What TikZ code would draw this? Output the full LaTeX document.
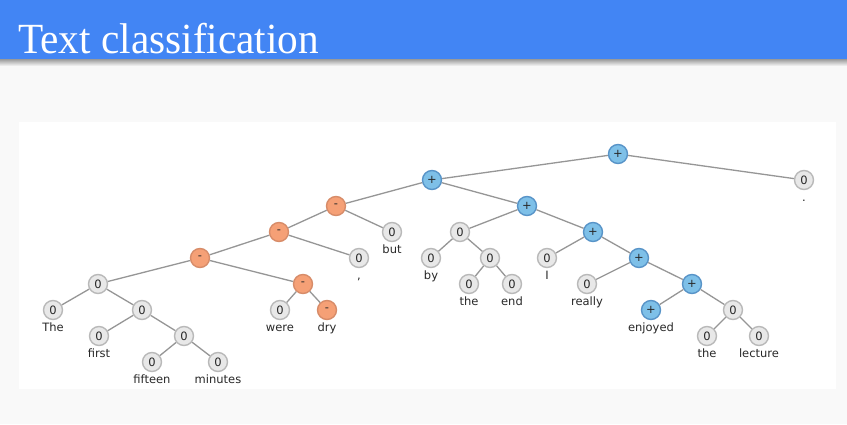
\documentclass[tikz,border=0pt]{standalone}
\usepackage{fontspec}
\setmainfont{Liberation Serif}
\newfontfamily\lblfont{DejaVu Sans}
\definecolor{barblue}{RGB}{66,133,244}
\definecolor{pagebg}{RGB}{249,249,249}
\definecolor{edgecol}{RGB}{150,150,150}
\definecolor{zfill}{RGB}{232,232,232}
\definecolor{zdraw}{RGB}{185,185,185}
\definecolor{nfill}{RGB}{245,160,118}
\definecolor{ndraw}{RGB}{215,140,105}
\definecolor{pfill}{RGB}{126,192,232}
\definecolor{pdraw}{RGB}{88,148,200}
\definecolor{txtcol}{RGB}{40,40,40}
\begin{document}
\begin{tikzpicture}[x=1pt,y=-1pt,
  nd/.style={circle,minimum size=19pt,inner sep=0pt,line width=1.4pt,font=\lblfont\fontsize{11.5}{11.5}\selectfont,text=txtcol},
  zn/.style={nd,fill=zfill,draw=zdraw},
  mn/.style={nd,fill=nfill,draw=ndraw},
  pn/.style={nd,fill=pfill,draw=pdraw},
  lbl/.style={anchor=base,inner sep=0pt,font=\lblfont\fontsize{11.5}{12}\selectfont,text=txtcol},
  ed/.style={draw=edgecol,line width=1.3pt}]
\useasboundingbox (0,0) rectangle (847,424);
\fill[pagebg] (0,0) rectangle (847,424);
\shade[top color=black!45,bottom color=pagebg] (0,58) rectangle (847,66);
\fill[barblue] (0,0) rectangle (847,59);
\node[anchor=base west,inner sep=0pt,text=white,font=\fontsize{43}{43}\selectfont,xscale=0.96] (title) at (18,53) {Text classification};
\fill[white] (19,122) rectangle (836,389);
% nodes
\node[pn] (r) at (618,154) {+};
\node[zn] (dot) at (804,180) {0};
\node[pn] (a) at (432,180) {+};
\node[mn] (b) at (336,206) {-};
\node[pn] (c) at (527,206) {+};
\node[mn] (d) at (279,232) {-};
\node[zn] (but) at (392,232) {0};
\node[mn] (e) at (200,258) {-};
\node[zn] (comma) at (359,258) {0};
\node[zn] (f) at (98,284) {0};
\node[mn] (g) at (303,284) {-};
\node[zn] (the1) at (53,310) {0};
\node[zn] (h) at (142,310) {0};
\node[zn] (first) at (99,336) {0};
\node[zn] (i) at (184,336) {0};
\node[zn] (fifteen) at (152,362) {0};
\node[zn] (minutes) at (218,362) {0};
\node[zn] (were) at (280,310) {0};
\node[mn] (dry) at (327,310) {-};
\node[zn] (j) at (460,232) {0};
\node[pn] (k) at (593,232) {+};
\node[zn] (by) at (431,258) {0};
\node[zn] (l) at (490,258) {0};
\node[zn] (the2) at (469,284) {0};
\node[zn] (end) at (512,284) {0};
\node[zn] (I) at (547,258) {0};
\node[pn] (m) at (639,258) {+};
\node[zn] (really) at (587,284) {0};
\node[pn] (n) at (692,284) {+};
\node[pn] (enjoyed) at (651,310) {+};
\node[zn] (o) at (733,310) {0};
\node[zn] (the3) at (707,336) {0};
\node[zn] (lecture) at (759,336) {0};
% edges
\foreach \p/\q in {r/a,r/dot,a/b,a/c,b/d,b/but,d/e,d/comma,e/f,e/g,f/the1,f/h,h/first,h/i,i/fifteen,i/minutes,g/were,g/dry,c/j,c/k,j/by,j/l,l/the2,l/end,k/I,k/m,m/really,m/n,n/enjoyed,n/o,o/the3,o/lecture}
  \draw[ed] (\p) -- (\q);
% labels
\foreach \p/\t in {dot/.,but/but,comma/{,},the1/The,first/first,fifteen/fifteen,minutes/minutes,were/were,dry/dry,by/by,the2/the,end/end,I/I,really/really,enjoyed/enjoyed,the3/the,lecture/lecture}
  \node[lbl] (t-\p) at ([yshift=-21pt]\p.center) {\t};
\end{tikzpicture}
\end{document}
